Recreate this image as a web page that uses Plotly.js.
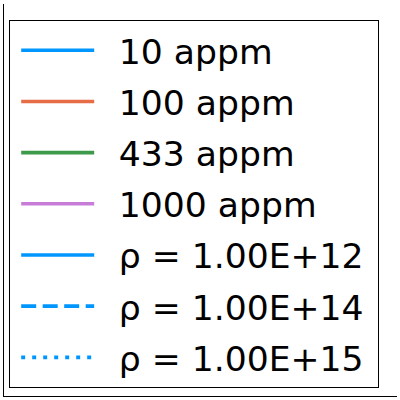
<!DOCTYPE html>
<html>
<head>
<meta charset="utf-8">
<script src="https://cdn.plot.ly/plotly-3.0.1.min.js"></script>
<style>html,body{margin:0;padding:0;background:#fff;}#chart{width:400px;height:400px;}</style>
</head>
<body>
<div id="chart"></div>
<script>
// Legend entries (plot area shows no data marks)
var seriesNames = ["10 appm", "100 appm", "433 appm", "1000 appm", "ρ = 1.00E+12", "ρ = 1.00E+14", "ρ = 1.00E+15"];
var seriesColors = ["#0096FF", "#E66D45", "#3D9A4A", "#C77CD8", "#0096FF", "#0096FF", "#0096FF"];
var seriesDash = ["solid", "solid", "solid", "solid", "solid", "15px,6.5px", "4px,7px"];
var seriesX = [[null], [null], [null], [null], [null], [null], [null]];
var seriesY = [[null], [null], [null], [null], [null], [null], [null]];

var LEAD = "\u00a0\u2005";
var TRAIL = "\u2005";

var data = seriesNames.map(function (n, i) {
  return {
    type: "scatter", mode: "lines", name: LEAD + n + TRAIL,
    x: seriesX[i], y: seriesY[i],
    legendgroup: "g" + i,
    line: {color: seriesColors[i], width: 3.6, dash: seriesDash[i]},
    showlegend: true
  };
});

var layout = {
  width: 400, height: 400,
  margin: {l: 4, r: 3, t: 4, b: 4, pad: 0},
  paper_bgcolor: "#fff", plot_bgcolor: "#fff",
  font: {family: "DejaVu Sans", size: 34.6, color: "#000"},
  xaxis: {range: [0, 1], showline: true, linecolor: "#000", linewidth: 1.2, showgrid: false, zeroline: false, showticklabels: false, ticks: ""},
  yaxis: {range: [0, 1], showline: true, linecolor: "#000", linewidth: 1.2, showgrid: false, zeroline: false, showticklabels: false, ticks: ""},
  showlegend: true,
  legend: {
    x: 0.0127, xanchor: "left", y: 0.959, yanchor: "top",
    bgcolor: "#fff", bordercolor: "#000", borderwidth: 1.2,
    font: {family: "DejaVu Sans", size: 34.6, color: "#000"},
    itemwidth: 73, tracegroupgap: 3.2, traceorder: "grouped", indentation: 6
  }
};

Plotly.newPlot("chart", data, layout, {staticPlot: true});
</script>
</body>
</html>
